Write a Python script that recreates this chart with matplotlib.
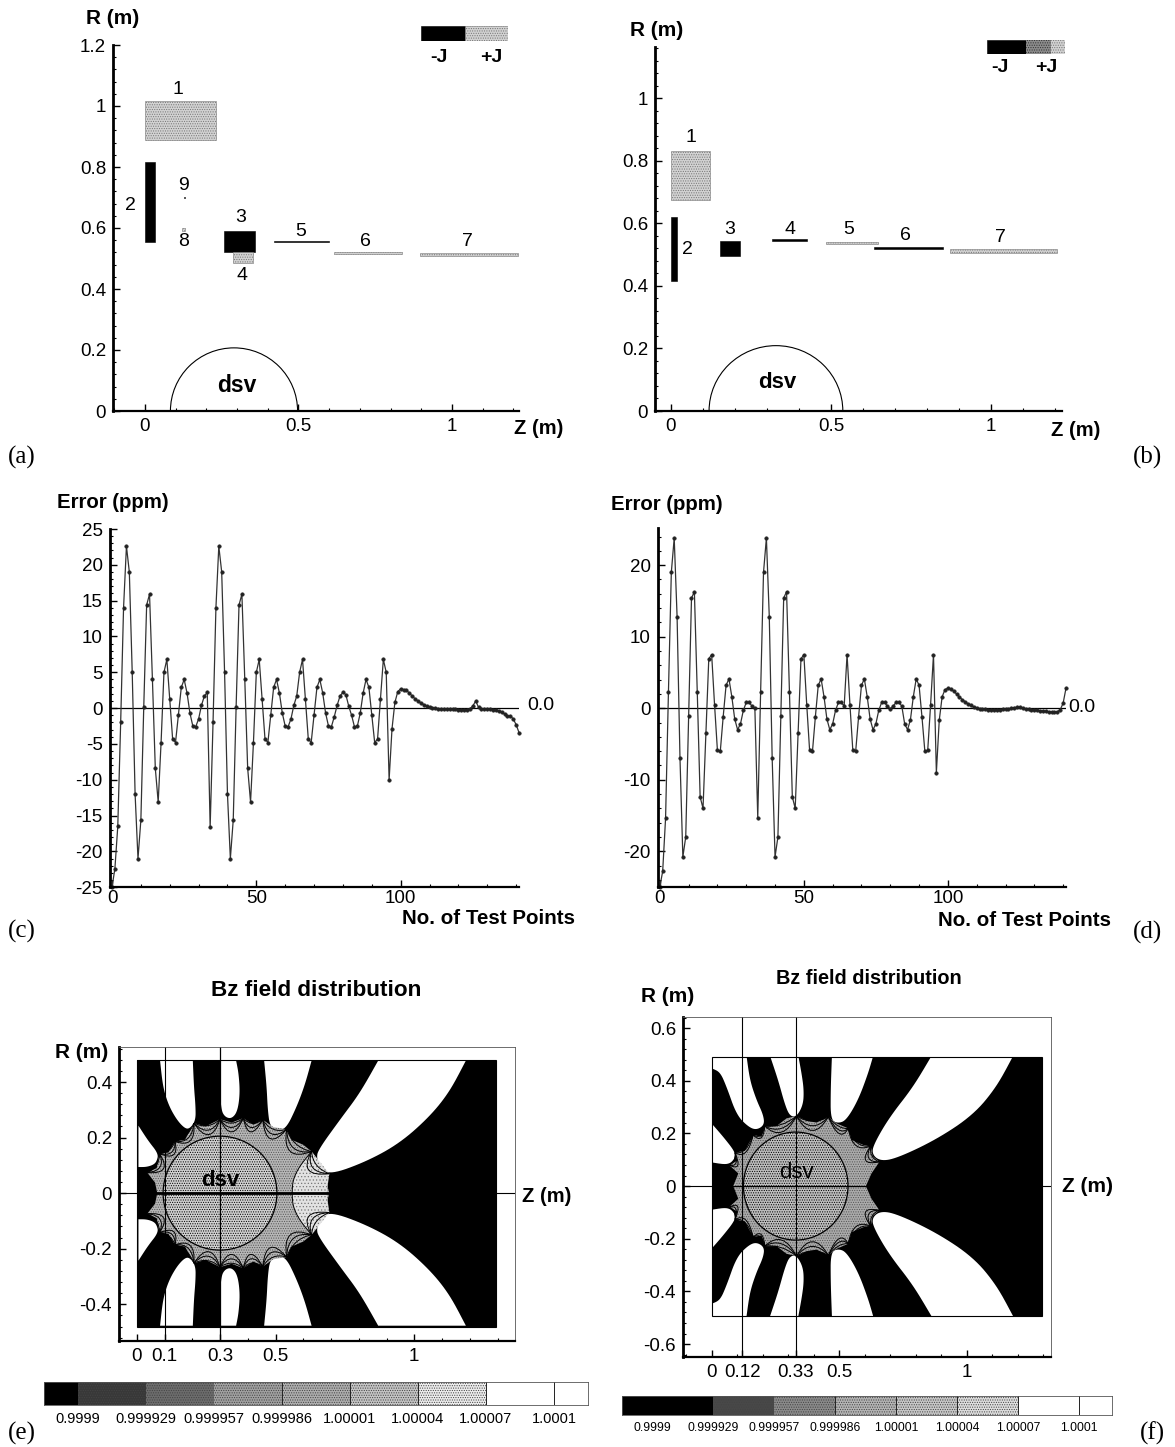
#!/usr/bin/env python

import numpy as np
import matplotlib
matplotlib.use('Agg')
import matplotlib.pyplot as plt
from matplotlib.patches import Rectangle, Arc, Circle, Polygon, PathPatch
from matplotlib.path import Path
from matplotlib.ticker import MultipleLocator

plt.rcParams['font.family'] = ['Liberation Sans', 'DejaVu Sans']
plt.rcParams['hatch.linewidth'] = 0.5
plt.rcParams['axes.unicode_minus'] = False

W, H = 1175, 1447
BLACK, GREY = '#000000', 'stipple'

# coil layouts: z from, z to, r from, r to, fill
coils_a_z0 = [0.0, 0.0, 0.258, 0.287, 0.42, 0.616, 0.896, 0.122, 0.126]
coils_a_z1 = [0.233, 0.033, 0.358, 0.352, 0.60, 0.837, 1.215, 0.132, 0.131]
coils_a_r0 = [0.888, 0.554, 0.52, 0.485, 0.553, 0.516, 0.509, 0.59, 0.698]
coils_a_r1 = [1.017, 0.817, 0.59, 0.52, 0.557, 0.520, 0.519, 0.60, 0.703]
coils_a_fill = [GREY, BLACK, BLACK, GREY, BLACK, GREY, GREY, GREY, BLACK]

coils_b_z0 = [0.0, 0.0, 0.154, 0.317, 0.484, 0.634, 0.872]
coils_b_z1 = [0.122, 0.02, 0.216, 0.425, 0.647, 0.85, 1.206]
coils_b_r0 = [0.675, 0.415, 0.497, 0.543, 0.533, 0.518, 0.505]
coils_b_r1 = [0.83, 0.62, 0.544, 0.551, 0.541, 0.526, 0.519]
coils_b_fill = [GREY, BLACK, BLACK, BLACK, GREY, BLACK, GREY]

r_ticks_ab = [0, 0.2, 0.4, 0.6, 0.8, 1.0, 1.2]
r_labels_a = ['0', '0.2', '0.4', '0.6', '0.8', '1', '1.2']
r_ticks_b = [0, 0.2, 0.4, 0.6, 0.8, 1.0]
r_labels_b = ['0', '0.2', '0.4', '0.6', '0.8', '1']
z_ticks_ab = [0, 0.5, 1]
z_labels_ab = ['0', '0.5', '1']

# error at the test points
error_c = [-25, -22.4, -16.5, -2, 14, 22.6, 19, 5, -12, -21, -15.6, 0.2, 14.4, 15.9, 4,
           -8.4, -13.1, -4.8, 5, 6.8, 1.3, -4.3, -4.8, -1, 2.9, 4, 2.1, -0.7, -2.5, -2.6,
           -1.5, 0.4, 1.7, 2.2, -16.6, -2, 14, 22.6, 19, 5, -12, -21, -15.6, 0.2, 14.4,
           15.9, 4, -8.4, -13.1, -4.8, 5, 6.8, 1.3, -4.3, -4.8, -1, 2.9, 4, 2.1, -0.7,
           -2.5, -2.6, -1.5, 0.4, 1.7, 5, 6.8, 1.3, -4.3, -4.8, -1, 2.9, 4, 2.1, -0.7,
           -2.5, -2.6, -1.2, 0.4, 1.7, 2.2, 1.9, 0.3, -1, -2.6, -2.5, -0.7, 2.1, 4, 2.9,
           -1, -4.8, -4.3, 1.3, 6.8, 5, -10, -2.9, 0.8, 2.3, 2.7, 2.6, 2.5, 2.1, 1.7,
           1.3, 1.0, 0.7, 0.5, 0.3, 0.15, 0.05, 0, -0.05, -0.1, -0.1, -0.12, -0.15, -0.15,
           -0.18, -0.2, -0.2, -0.22, -0.2, -0.1, 0.3, 1.0, 0.1, -0.05, -0.1, -0.1, -0.15,
           -0.2, -0.3, -0.4, -0.6, -0.8, -1.1, -1.1, -1.5, -2.3, -3.4]
error_d = [-25, -22.8, -15.4, 2.3, 19, 23.8, 12.8, -6.9, -20.8, -18, -1.1, 15.4, 16.3, 2.3,
           -12.4, -14, -3.5, 6.9, 7.5, 0.5, -5.9, -6, -1.2, 3.2, 4.1, 1.6, -1.5, -3, -2.2,
           -0.3, 0.8, 0.8, 0.3, 0, -15.3, 2.3, 19, 23.8, 12.8, -6.9, -20.8, -18, -1.1,
           15.4, 16.3, 2.3, -12.4, -14, -3.5, 6.9, 7.5, 0.5, -5.9, -6, -1.2, 3.2, 4.1, 1.6,
           -1.5, -3, -2.2, -0.3, 0.8, 0.8, 0.3, 7.5, 0.5, -5.9, -6, -1.2, 3.2, 4.1, 1.6,
           -1.5, -3, -2.2, -0.3, 0.8, 0.8, 0.3, -0.1, 0.3, 0.8, 0.8, 0.3, -2.2, -3, -1.6,
           1.6, 4.1, 3.2, -1.2, -6, -5.9, 0.5, 7.5, -9, -1.7, 1.6, 2.6, 2.8, 2.7, 2.4, 2,
           1.6, 1.2, 0.9, 0.6, 0.4, 0.2, 0.05, -0.05, -0.1, -0.15, -0.2, -0.2, -0.2, -0.2,
           -0.2, -0.15, -0.15, -0.1, 0, 0.1, 0.12, 0.15, 0, -0.1, -0.15, -0.2, -0.25, -0.3,
           -0.35, -0.4, -0.45, -0.5, -0.5, -0.5, -0.5, -0.2, 0.7, 2.8]

# Bz map outlines, upper half, mirrored in r for the lower half
white_e = [
    [(.006, .243), (.04, .19), (.078, .142), (.072, .115), (.06, .102), (.034, .094), (.006, .094)],
    [(.084, .477), (.094, .384), (.114, .318), (.144, .264), (.174, .232), (.192, .233), (.212, .262),
     (.212, .312), (.206, .384), (.202, .477)],
    [(.300, .477), (.300, .384), (.304, .300), (.318, .274), (.342, .268), (.363, .294), (.372, .360),
     (.367, .432), (.358, .477)],
    [(.459, .477), (.468, .384), (.472, .300), (.480, .240), (.507, .228), (.538, .232), (.576, .310),
     (.606, .390), (.630, .477)],
    [(.870, .477), (.804, .360), (.732, .264), (.654, .156), (.648, .126), (.663, .094), (.696, .066),
     (.828, .114), (.948, .180), (1.056, .276), (1.128, .366), (1.186, .477)],
]
star_e = [(.074, 0), (.066, .038), (.038, .074), (.072, .090), (.082, .142), (.114, .146), (.138, .186),
          (.174, .192), (.206, .252), (.248, .240), (.300, .266), (.342, .254), (.384, .270), (.420, .246),
          (.454, .264), (.492, .238), (.540, .230), (.558, .192), (.600, .174), (.630, .150), (.648, .108),
          (.694, .070), (.684, .036), (.694, 0)]
cusps_e = [(.038, .074), (.082, .142), (.138, .186), (.206, .252), (.300, .266), (.384, .270), (.454, .264),
           (.540, .230), (.630, .150), (.694, .070)]
dips_e = [(.10, .085), (.135, .135), (.195, .185), (.26, .205), (.342, .215), (.41, .215), (.48, .19),
          (.55, .145), (.615, .08)]
bulge_e = [(.630, .150), (.585, .095), (.562, .045), (.560, 0)]
bulge_end_e = [(.694, -.070), (.684, 0), (.694, .070)]

white_f = [
    [(.137, .495), (.150, .403), (.176, .327), (.203, .270), (.207, .232), (.176, .213),
     (.144, .225), (.098, .270), (.059, .377), (.033, .434), (0, .447), (0, .495)],
    [(0, .238), (.046, .187), (.092, .130), (.092, .105), (.065, .080), (0, .090)],
    [(.229, .495), (.261, .403), (.288, .308), (.307, .266), (.333, .263), (.359, .308), (.362, .365),
     (.353, .428), (.340, .495)],
    [(.472, .495), (.467, .365), (.467, .251), (.497, .238), (.529, .251), (.575, .327), (.614, .428),
     (.634, .495)],
    [(.863, .495), (.791, .377), (.699, .263), (.641, .168), (.627, .124), (.660, .095), (.725, .105),
     (.882, .177), (1.026, .270), (1.118, .377), (1.183, .495)],
]
star_f = [(.085, 0), (.105, .048), (.069, .080), (.101, .096), (.092, .127), (.131, .134), (.163, .194),
          (.196, .187), (.209, .228), (.255, .228), (.294, .257), (.333, .266), (.373, .248), (.412, .241),
          (.458, .263), (.490, .238), (.536, .219), (.549, .175), (.595, .156), (.624, .152), (.631, .114),
          (.658, .092), (.627, .048), (.605, 0)]
cusps_f = [(.069, .080), (.092, .127), (.163, .194), (.209, .228), (.333, .266), (.458, .263), (.536, .219),
           (.624, .152), (.658, .092)]
dips_f = [(.105, .075), (.135, .125), (.195, .18), (.275, .20), (.395, .205), (.50, .195), (.565, .15),
          (.60, .095)]

z_labels_e = ['0', '0.1', '0.3', '0.5', '1']
z_ticks_e = [0, 0.1, 0.3, 0.5, 1]
z_labels_f = ['0', '0.12', '0.33', '0.5', '1']
z_ticks_f = [0, 0.12, 0.33, 0.5, 1]
r_ticks_e = [-0.4, -0.2, 0, 0.2, 0.4]
r_labels_e = ['-0.4', '-0.2', '0', '0.2', '0.4']
r_ticks_f = [-0.6, -0.4, -0.2, 0, 0.2, 0.4, 0.6]
r_labels_f = ['-0.6', '-0.4', '-0.2', '0', '0.2', '0.4', '0.6']

levels = ['0.9999', '0.999929', '0.999957', '0.999986', '1.00001', '1.00004', '1.00007', '1.0001']
bar_greys_e = ['#000000', '#383838', '#6c6c6c', '#a0a0a0', '#adadad', '#c4c4c4', '#ececec', '#ffffff', '#ffffff']
bar_greys_f = ['#000000', '#000000', '#484848', '#8a8a8a', '#b4b4b4', '#c8c8c8', '#dedede', '#ffffff', '#ffffff']

fig = plt.figure(figsize=(W / 100, H / 100), dpi=100)


def px_axes(left, top, right, bottom):
    return fig.add_axes([left / W, 1 - bottom / H, (right - left) / W, (bottom - top) / H])


def px_text(x, y, s, size=13.5, **kw):
    fig.text(x / W, 1 - y / H, s, fontsize=size, ha=kw.pop('ha', 'center'), va=kw.pop('va', 'center'), **kw)


def style_axes(ax, xmin, xmax, ymin, ymax, yminor, xminor, full=False):
    ax.set_xlim(xmin, xmax)
    ax.set_ylim(ymin, ymax)
    ax.patch.set_alpha(0)
    ax.spines['left'].set_linewidth(2)
    ax.spines['bottom'].set_linewidth(1.6)
    if full:
        ax.spines['top'].set_linewidth(0.6)
        ax.spines['right'].set_linewidth(0.6)
        ax.spines['top'].set_color('#555555')
        ax.spines['right'].set_color('#555555')
    else:
        ax.spines['top'].set_visible(False)
        ax.spines['right'].set_visible(False)
    ax.yaxis.set_minor_locator(MultipleLocator(yminor))
    ax.xaxis.set_minor_locator(MultipleLocator(xminor))
    ax.tick_params(which='major', direction='in', length=5, width=1, labelsize=13.5, pad=5)
    ax.tick_params(which='minor', direction='in', length=2.5, width=0.8)


def add_block(ax, z0, z1, r0, r1, fill):
    if fill == GREY:
        ax.add_patch(Rectangle((z0, r0), z1 - z0, r1 - r0, facecolor='#d2d2d2', edgecolor='#777777',
                               hatch='.......', lw=0.4))
    else:
        ax.add_patch(Rectangle((z0, r0), z1 - z0, r1 - r0, facecolor=fill, edgecolor=fill, lw=0.4))


def layout_panel(ax, z0s, z1s, r0s, r1s, fills, dsv_z, dsv_r):
    for z0, z1, r0, r1, fill in zip(z0s, z1s, r0s, r1s, fills):
        add_block(ax, z0, z1, r0, r1, fill)
    ax.add_patch(Arc((dsv_z, 0), 2 * dsv_r, 2 * dsv_r, theta1=0, theta2=180, color='black', lw=0.8))


def error_panel(ax, values):
    x = np.arange(len(values))
    ax.axhline(0, color='black', lw=0.9)
    ax.plot(x, values, color='#333333', lw=0.9, marker='o', ms=2.6, mfc='#222222', mec='#222222', mew=0.3,
            clip_on=False)
    ax.tick_params(axis='x', which='major', pad=2)


def mirrored(points):
    pts = np.array(points)
    low = pts[::-1] * [1, -1]
    return np.vstack([pts, low])


def rounded(points, passes=3):
    # corner cutting, the two ends of the outline stay where they are
    pts = np.array(points, dtype=float)
    for _ in range(passes):
        q = 0.75 * pts[:-1] + 0.25 * pts[1:]
        r = 0.25 * pts[:-1] + 0.75 * pts[1:]
        inner = np.empty((2 * len(q), 2))
        inner[0::2] = q
        inner[1::2] = r
        pts = np.vstack([pts[0], inner[1:-1], pts[-1]])
    return pts


def field_panel(ax, white, star, cusps, dips, field_w, r_top, r_bot, dsv_z, bulge, bulge_end, center_lw, ring, disc):
    box = Rectangle((0, r_bot), field_w, r_top - r_bot, transform=ax.transData)
    ax.add_patch(Rectangle((0, r_bot), field_w, r_top - r_bot, facecolor='black', edgecolor='none'))
    for lobe in white:
        smooth = rounded(lobe)
        if lobe[-1][0] == 0 and lobe[-1][1] > 0.4:
            smooth = np.vstack([rounded(lobe[:-1]), lobe[-1]])
        for sign in (1, -1):
            ax.add_patch(Polygon(smooth * [1, sign], facecolor='white', edgecolor='none', clip_path=box))
    ax.add_patch(Polygon(mirrored(star), facecolor=ring, edgecolor='#555555', lw=0, hatch='.......'))
    if bulge is not None:
        edge = rounded(bulge)
        ax.add_patch(Polygon(np.vstack([mirrored(edge), bulge_end]), facecolor='#e2e2e2', edgecolor='#777777',
                             lw=0, hatch='.....'))
        for sign in (1, -1):
            ax.plot(edge[:, 0], sign * edge[:, 1], color='black', lw=0.7)
    ax.add_patch(Circle((dsv_z, 0), 0.205, facecolor=disc, edgecolor='black', lw=0.9, hatch='.......'))
    for sign in (1, -1):
        for frac in (1.8, 1.2, 0.6):
            for c0, c1, d in zip(cusps[:-1], cusps[1:], dips):
                mid = (np.array(c0) + np.array(c1)) / 2
                ctrl = mid + frac * (np.array(d) - mid)
                verts = [(c0[0], sign * c0[1]), (ctrl[0], sign * ctrl[1]), (c1[0], sign * c1[1])]
                ax.add_patch(PathPatch(Path(verts, [Path.MOVETO, Path.CURVE3, Path.CURVE3]), fc='none',
                                       ec='black', lw=0.7))
    ax.add_patch(Rectangle((0, r_bot), field_w, r_top - r_bot, facecolor='none', edgecolor='black', lw=0.8))
    ax.axhline(0, color='black', lw=0.8)
    ax.plot([star[0][0], star[-1][0]], [0, 0], color='black', lw=center_lw)


def colorbar(ax, greys, xmax, size):
    edges = [-0.5, 0, 1, 2, 3, 4, 5, 6, 7, xmax]
    for i, grey in enumerate(greys):
        mid_tone = grey not in ('#000000', '#ffffff')
        ax.bar(edges[i], 1, width=edges[i + 1] - edges[i], align='edge', color=grey,
               hatch='.......' if mid_tone else None, edgecolor='#444444' if mid_tone else grey, lw=0)
    ax.set_xlim(-0.5, xmax)
    ax.set_ylim(0, 1)
    ax.set_yticks([])
    ax.set_xticks(range(8))
    ax.set_xticklabels(levels, fontsize=size)
    ax.tick_params(axis='x', length=0, pad=5)
    for i in range(3, 8):
        ax.axvline(i, color='#222222', lw=0.7)
    for s in ax.spines.values():
        s.set_linewidth(0.6)
        s.set_color('#555555')


# (a)
ax = px_axes(113, 45, 519, 411)
style_axes(ax, -0.104, 1.218, 0, 1.2, 0.04, 0.1)
layout_panel(ax, coils_a_z0, coils_a_z1, coils_a_r0, coils_a_r1, coils_a_fill, 0.29, 0.207)
ax.set_xticks(z_ticks_ab, z_labels_ab)
ax.set_yticks(r_ticks_ab, r_labels_a)
for x, y, s in [(178, 89, '1'), (130, 205, '2'), (241, 217, '3'), (242, 275, '4'), (301, 231, '5'),
                (365, 241, '6'), (467, 241, '7'), (184, 242, '8'), (184, 185, '9')]:
    px_text(x, y, s, 14)
px_text(237, 385, 'dsv', 16.5, fontweight='bold')
px_text(113, 19, 'R (m)', 15, fontweight='bold')
px_text(539, 429, 'Z (m)', 14.5, fontweight='bold')
leg = px_axes(421, 26, 508, 41)
leg.axis('off')
leg.set_xlim(0, 2)
leg.set_ylim(0, 1)
add_block(leg, 0, 1, 0, 1, BLACK)
add_block(leg, 1, 2, 0, 1, GREY)
px_text(439, 57, '-J', 14, fontweight='bold')
px_text(491, 57, '+J', 14, fontweight='bold')

# (b)
ax = px_axes(655, 46.7, 1062, 411)
style_axes(ax, -0.05, 1.222, 0, 1.165, 0.04, 0.1)
layout_panel(ax, coils_b_z0, coils_b_z1, coils_b_r0, coils_b_r1, coils_b_fill, 0.328, 0.209)
ax.set_xticks(z_ticks_ab, z_labels_ab)
ax.set_yticks(r_ticks_b, r_labels_b)
for x, y, s in [(691, 137, '1'), (687, 249, '2'), (730, 230, '3'), (790, 229, '4'), (849, 230, '5'),
                (905, 236, '6'), (1000, 237, '7')]:
    px_text(x, y, s, 14)
px_text(777, 382, 'dsv', 16, fontweight='bold')
px_text(657, 30, 'R (m)', 15, fontweight='bold')
px_text(1076, 431, 'Z (m)', 14.5, fontweight='bold')
leg = px_axes(987, 40, 1065, 54)
leg.axis('off')
leg.set_xlim(0, 2)
leg.set_ylim(0, 1)
add_block(leg, 0, 1, 0, 1, BLACK)
leg.add_patch(Rectangle((1, 0), 0.65, 1, facecolor='#8c8c8c', edgecolor='#333333', hatch='.......', lw=0))
leg.add_patch(Rectangle((1.65, 0), 0.35, 1, facecolor='#d2d2d2', edgecolor='#777777', hatch='.......', lw=0))
px_text(1000, 67, '-J', 14, fontweight='bold')
px_text(1046, 67, '+J', 14, fontweight='bold')

# (c)
ax = px_axes(109.7, 529, 519, 887.3)
style_axes(ax, -0.8, 141, -25, 25, 1, 10)
error_panel(ax, error_c)
ax.set_xticks([0, 50, 100])
ax.set_yticks(np.arange(-25, 26, 5))
px_text(113, 502, 'Error (ppm)', 14.7, fontweight='bold')
px_text(488, 919, 'No. of Test Points', 14.8, fontweight='bold')
px_text(541, 706, '0.0', 14)

# (d)
ax = px_axes(657.5, 528, 1066, 887)
style_axes(ax, -0.8, 141, -25, 25.2, 2, 10)
error_panel(ax, error_d)
ax.set_xticks([0, 50, 100])
ax.set_yticks([-20, -10, 0, 10, 20])
px_text(667, 505, 'Error (ppm)', 14.7, fontweight='bold')
px_text(1024, 920, 'No. of Test Points', 14.8, fontweight='bold')
px_text(1082, 708, '0.0', 14)

# (e)
ax = px_axes(119, 1047, 515, 1340.7)
style_axes(ax, -0.064, 1.363, -0.531, 0.526, 0.04, 0.1, full=True)
field_panel(ax, white_e, star_e, cusps_e, dips_e, 1.294, 0.48, -0.48, 0.3, bulge_e, bulge_end_e, 2.0,
            '#b6b6b6', '#d0d0d0')
ax.plot([0.1, 0.1], [-0.531, 0.526], color='black', lw=0.8)
ax.plot([0.3, 0.3], [-0.531, 0.526], color='black', lw=0.9)
ax.set_xticks(z_ticks_e, z_labels_e)
ax.set_yticks(r_ticks_e, r_labels_e)
px_text(316, 991, 'Bz field distribution', 16.2, fontweight='bold')
px_text(82, 1053, 'R (m)', 15, fontweight='bold')
px_text(547, 1196, 'Z (m)', 14.5, fontweight='bold')
px_text(220, 1181, 'dsv', 16, fontweight='bold')
cb = px_axes(43.5, 1382, 588, 1405)
colorbar(cb, bar_greys_e, 7.5, 10.5)

# (f)
ax = px_axes(683, 1017, 1051, 1357)
style_axes(ax, -0.112, 1.331, -0.649, 0.642, 0.04, 0.1, full=True)
field_panel(ax, white_f, star_f, cusps_f, dips_f, 1.294, 0.491, -0.495, 0.33, None, None, 0.8,
            '#aaaaaa', '#bebebe')
ax.plot([0.12, 0.12], [-0.649, 0.642], color='black', lw=0.8)
ax.plot([0.33, 0.33], [-0.649, 0.642], color='black', lw=0.8)
ax.set_xticks(z_ticks_f, z_labels_f)
ax.set_yticks(r_ticks_f, r_labels_f)
px_text(869, 978, 'Bz field distribution', 14.3, fontweight='bold')
px_text(668, 996, 'R (m)', 15, fontweight='bold')
px_text(1088, 1187, 'Z (m)', 15, fontweight='bold')
px_text(796, 1173, 'dsv', 16)
cb = px_axes(621.6, 1396, 1112, 1415)
colorbar(cb, bar_greys_f, 7.54, 8.7)

for x, y, s in [(22, 457, '(a)'), (1147, 457, '(b)'), (22, 931, '(c)'), (1147, 932, '(d)'),
                (22, 1433, '(e)'), (1152, 1433, '(f)')]:
    px_text(x, y, s, 18, family='Liberation Serif')

fig.savefig('out.png', dpi=100)
